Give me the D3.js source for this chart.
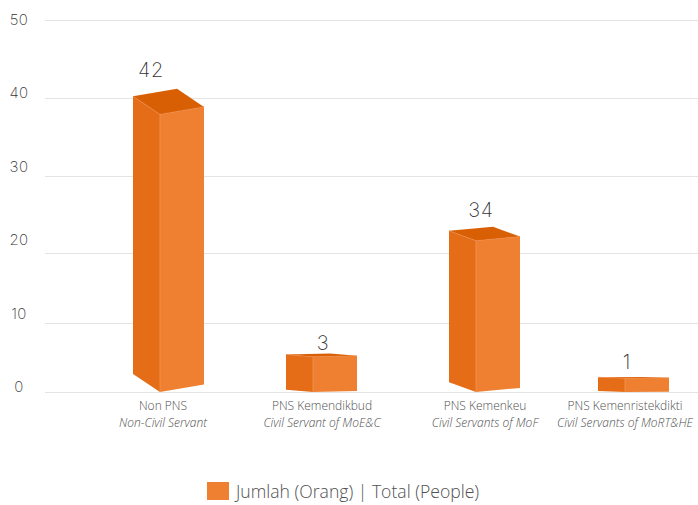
<!DOCTYPE html>
<html><head><meta charset="utf-8">
<script src="https://cdn.jsdelivr.net/npm/d3@7"></script>
<style>html,body{margin:0;padding:0;background:#fff}svg{display:block}</style>
</head><body><div id="c"></div>
<script>
const categories = ["Non PNS","PNS Kemendikbud","PNS Kemenkeu","PNS Kemenristekdikti"];
const subLabels = ["Non-Civil Servant","Civil Servant of MoE&C","Civil Servants of MoF","Civil Servants of MoRT&HE"];
const valueLabels = [42,3,34,1];
const drawnHeights = [37.9,5.1,21.6,2.0];
const tickValues = [0,10,20,30,40,50];
const legendText = "Jumlah (Orang) | Total (People)";

const W=698,H=505;
const svg=d3.select("#c").append("svg").attr("width",W).attr("height",H);
const gridY=d3.scaleLinear().domain(tickValues).range([392,323,253,176,98,20]);
const tickY=d3.scaleLinear().domain([0,50]).range([386.5,19.5]);
const frontX=d3.scaleOrdinal().domain(categories).range([160,313,476,625]);
const catLabelX=d3.scaleOrdinal().domain(categories).range([163,322,485,625]);
const valLabelX=d3.scaleOrdinal().domain(categories).range([151,323,481,627]);
const valLabelGap=d3.scaleOrdinal().domain(categories).range([19,11,17,15]);
const leftW=27,rightW=44,leftSkew=0.065,rightSkew=0.027;
const C={left:"#E56D18",right:"#EF8032",top:"#D95F05",grid:"#E4E4E4",text:"#505050",num:"#333"};

svg.append("g").selectAll("line").data(tickValues).join("line")
  .attr("x1",45).attr("x2",W).attr("y1",d=>gridY(d)+.5).attr("y2",d=>gridY(d)+.5)
  .attr("stroke",C.grid).attr("stroke-width",1);

svg.append("g").selectAll("text").data(tickValues).join("text")
  .attr("x",19).attr("y",d=>tickY(d)).attr("text-anchor","middle").attr("dominant-baseline","central")
  .attr("font-family","Inter").attr("font-weight",200).attr("font-size",15).attr("letter-spacing",.4).attr("fill",C.num).text(d=>d);

const base=gridY(0);
const rows=categories.map((c,i)=>({c,i,h:base-gridY(drawnHeights[i])}));
const bars=svg.append("g").selectAll("g").data(rows).join("g");
const pts=a=>a.map(p=>p.join(",")).join(" ");
bars.each(function(d){
  const g=d3.select(this),f=frontX(d.c),t=base-d.h,l=d.h*leftSkew,r=d.h*rightSkew;
  g.append("polygon").attr("fill",C.left).attr("points",pts([[f-leftW,t-l],[f,t],[f,base],[f-leftW,base-l]]));
  g.append("polygon").attr("fill",C.right).attr("points",pts([[f,t],[f+rightW,t-r],[f+rightW,base-r],[f,base]]));
  g.append("polygon").attr("fill",C.top).attr("points",pts([[f-leftW,t-l],[f+rightW-leftW,t-l-r],[f+rightW,t-r],[f,t]]));
  g.append("line").attr("x1",f).attr("x2",f).attr("y1",t).attr("y2",base).attr("stroke","#F59A5C").attr("stroke-width",.7);
  g.append("path").attr("fill","none").attr("stroke","#EE8A48").attr("stroke-width",.6)
    .attr("d",`M${f-leftW},${t-l}L${f},${t}L${f+rightW},${t-r}`);
  g.append("text").attr("x",valLabelX(d.c)).attr("y",t-l-r-valLabelGap(d.c))
    .attr("text-anchor","middle").attr("dominant-baseline","central")
    .attr("font-family","Inter").attr("font-weight",200).attr("font-size",20).attr("letter-spacing",.8).attr("fill",C.num).text(valueLabels[d.i]);
});

const xl=svg.append("g").selectAll("g").data(categories).join("g")
  .attr("transform",c=>`translate(${catLabelX(c)},0)`)
  .attr("font-family","Open Sans").attr("font-weight",300).attr("font-size",12).attr("fill",C.text).attr("text-anchor","middle");
xl.append("text").attr("y",410).text(c=>c);
xl.append("text").attr("y",427).attr("font-style","italic").text((c,i)=>subLabels[i]);

svg.append("rect").attr("x",207).attr("y",482).attr("width",22).attr("height",18).attr("fill",C.right);
svg.append("text").attr("x",236).attr("y",497.5).attr("font-family","Open Sans").attr("font-weight",300)
  .attr("font-size",17.6).attr("fill",C.text).text(legendText);
</script></body></html>
